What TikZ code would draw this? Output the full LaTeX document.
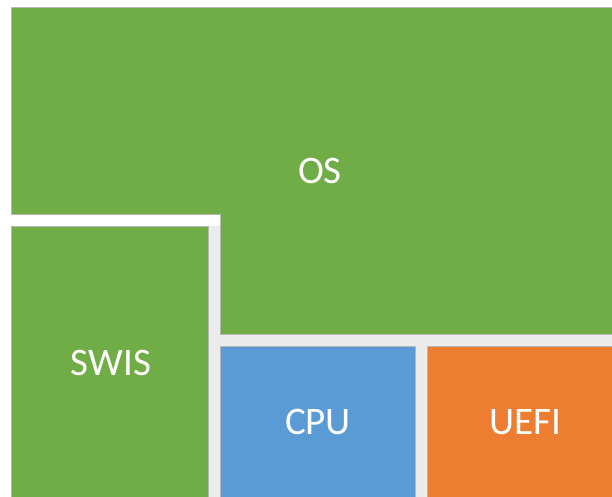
\documentclass[tikz,border=0pt]{standalone}
\usepackage{fontspec}
\setmainfont{Carlito}
\definecolor{osgreen}{HTML}{70AD47}
\definecolor{cpublue}{HTML}{5B9BD5}
\definecolor{uefiorange}{HTML}{ED7D31}
\definecolor{edgegray}{HTML}{B8B8B8}
\definecolor{gapgray}{HTML}{ECECEC}
\begin{document}
\begin{tikzpicture}[x=1pt,y=1pt,
  block/.style={draw=edgegray,line width=1pt},
  lbl/.style={text=white,font=\fontsize{39}{46}\selectfont,inner sep=0pt}]
\useasboundingbox (0,0) rectangle (612,-497);
\clip (0,0) rectangle (612,-497);
% soft gap shading
\fill[gapgray] (208,-334) rectangle (612,-346);
\fill[gapgray] (208,-226) rectangle (220,-497);
\fill[gapgray] (415,-346) rectangle (427,-497);
% OS
\path[block,fill=osgreen] (11,-8) -- (620,-8) -- (620,-334) -- (220,-334) -- (220,-214) -- (11,-214) -- cycle;
% SWIS
\path[block,fill=osgreen] (11,-226) rectangle (208,-505);
% CPU
\path[block,fill=cpublue] (220,-346) rectangle (415,-505);
% UEFI
\path[block,fill=uefiorange] (427,-346) rectangle (620,-505);
\node[lbl] (os) at (320,-171) {OS};
\node[lbl] (swis) at (111,-363) {SWIS};
\node[lbl] (cpu) at (318,-422) {CPU};
\node[lbl] (uefi) at (525,-422) {UEFI};
\end{tikzpicture}
\end{document}
